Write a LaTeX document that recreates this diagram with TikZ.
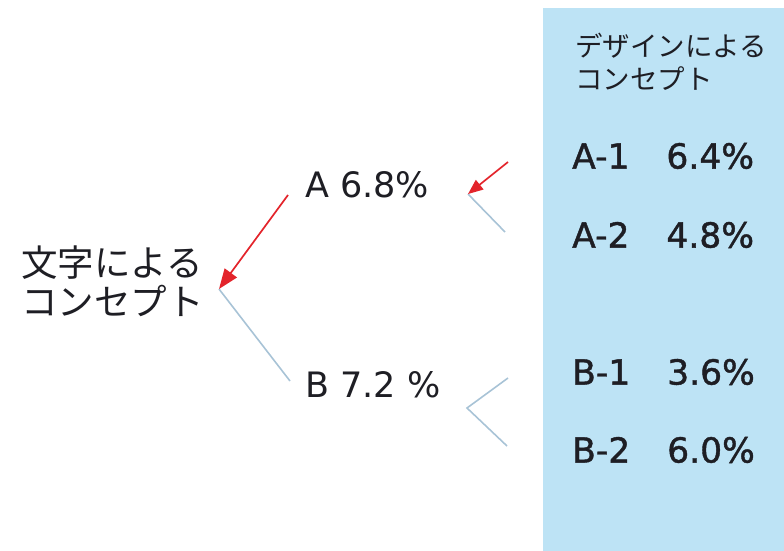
\documentclass[tikz,border=0pt]{standalone}
\usepackage{fontspec}
\setmainfont{DejaVu Sans}
\newfontfamily\jpfont{Noto Sans CJK JP}
\newfontfamily\numfont[FakeBold=1.2]{DejaVu Sans}
\usetikzlibrary{arrows.meta}
\definecolor{boxblue}{HTML}{BDE3F5}
\definecolor{arrred}{HTML}{E3242B}
\definecolor{linegray}{HTML}{A8C3D6}
\definecolor{txt}{HTML}{1E1E24}
\tikzset{
  jptext/.style={inner sep=0pt, align=left, text=txt, font=\jpfont\fontsize{36.5}{39}\selectfont},
  jpsmall/.style={inner sep=0pt, align=left, text=txt, font=\jpfont\fontsize{27.5}{33}\selectfont},
  pct/.style={inner sep=0pt, text=txt, font=\fontsize{35}{40}\selectfont},
  boxpct/.style={inner sep=0pt, text=txt, font=\numfont\fontsize{34.5}{38}\selectfont},
  redarrow/.style={draw=arrred, line width=1.7pt, -{Triangle[length=20pt,width=15pt]}},
  smallarrow/.style={draw=arrred, line width=1.7pt, -{Triangle[length=15pt,width=12pt]}},
  grayline/.style={draw=linegray, line width=1.6pt}
}
\begin{document}
\begin{tikzpicture}[x=1pt,y=-1pt]
\useasboundingbox (0,0) rectangle (784,551);
\fill[boxblue] (543,8) rectangle (784,551);

\node[jptext, anchor=west] (main) at (21,281) {文字による\\コンセプト};
\node[pct, anchor=west] (A) at (305,185) {A 6.8\%};
\node[pct, anchor=west] (B) at (305,385) {B 7.2 \%};

\node[jpsmall, anchor=west] (design) at (575,62) {デザインによる\\コンセプト};
\node[boxpct, anchor=west] (A1) at (572,156) {A-1\hspace{37pt}6.4\%};
\node[boxpct, anchor=west] (A2) at (572,235) {A-2\hspace{37pt}4.8\%};
\node[boxpct, anchor=west] (B1) at (572,372) {B-1\hspace{37pt}3.6\%};
\node[boxpct, anchor=west] (B2) at (572,450) {B-2\hspace{37pt}6.0\%};

\coordinate (j0) at (219,289);
\coordinate (aTail) at (288,195);
\coordinate (bEnd) at (290,381);
\coordinate (jA) at (468,194);
\coordinate (a1Tail) at (508,162);
\coordinate (a2End) at (505,232);
\coordinate (jB) at (467,408);
\coordinate (b1End) at (508,378);
\coordinate (b2End) at (507,446);

\draw[grayline] (j0) -- (bEnd);
\draw[redarrow] (aTail) -- (j0);
\draw[grayline] (jA) -- (a2End);
\draw[smallarrow] (a1Tail) -- (jA);
\draw[grayline] (b1End) -- (jB) -- (b2End);
\end{tikzpicture}
\end{document}
